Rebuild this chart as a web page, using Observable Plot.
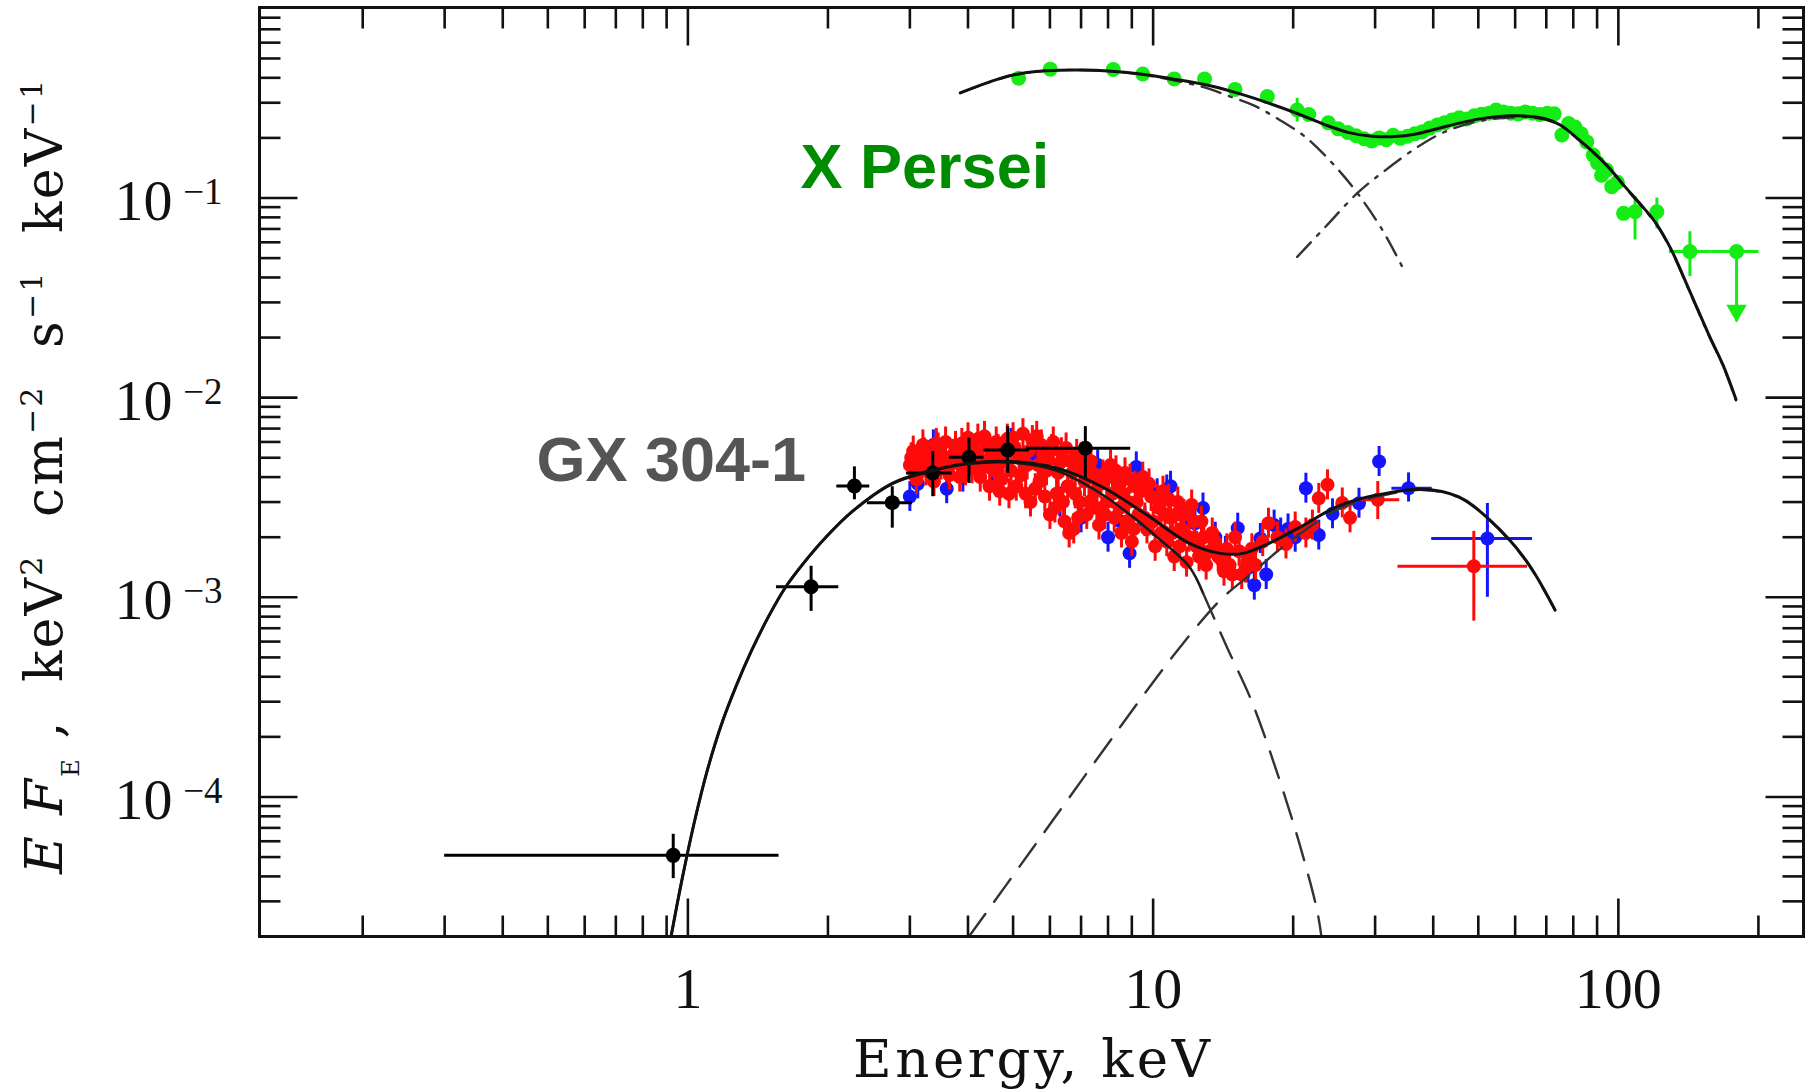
<!DOCTYPE html>
<html>
<head>
<meta charset="utf-8">
<script src="https://cdn.jsdelivr.net/npm/d3@7"></script>
<script src="https://cdn.jsdelivr.net/npm/@observablehq/plot@0.6"></script>
<style>
  html, body { margin: 0; padding: 0; background: #fff; }
  #chart { width: 1805px; height: 1089px; }
</style>
</head>
<body>
<div id="chart"></div>
<script>
// ---------------- axes ----------------
const xDomain = [0.12, 250];      // Energy, keV
const yDomain = [2e-5, 0.9];      // E F_E, keV^2 cm^-2 s^-1 keV^-1
const xMajorTicks = [1, 10, 100];
const xTickLabels = ["1", "10", "100"];
const xMinorTicks = [0.2, 0.3, 0.4, 0.5, 0.6, 0.7, 0.8, 0.9,
                     2, 3, 4, 5, 6, 7, 8, 9,
                     20, 30, 40, 50, 60, 70, 80, 90, 200];
const yMajorTicks = [1e-4, 1e-3, 1e-2, 1e-1];
const yTickExponents = ["\u22124", "\u22123", "\u22122", "\u22121"];
const yMinorTicks = [3e-5, 4e-5, 5e-5, 6e-5, 7e-5, 8e-5, 9e-5,
                     2e-4, 3e-4, 4e-4, 5e-4, 6e-4, 7e-4, 8e-4, 9e-4,
                     2e-3, 3e-3, 4e-3, 5e-3, 6e-3, 7e-3, 8e-3, 9e-3,
                     2e-2, 3e-2, 4e-2, 5e-2, 6e-2, 7e-2, 8e-2, 9e-2,
                     0.2, 0.3, 0.4, 0.5, 0.6, 0.7, 0.8];
const xLabel = "Energy, keV";

// ---------------- X Persei ----------------
// spectral points [E, EF_E]
const xperPoints = [
  [5.14,0.398],[6.01,0.442],[8.21,0.44],[9.5,0.418],[11.1,0.395],[12.9,0.395],
  [15.0,0.35],[17.6,0.322],[21.6,0.262],[23.8,0.238],[25.0,0.222],[26.2,0.213],
  [27.3,0.205],[28.4,0.198],[29.5,0.193],[30.6,0.2],[31.7,0.196],[32.8,0.206],
  [34.0,0.199],[35.2,0.204],[36.5,0.21],[37.9,0.215],[39.3,0.224],[40.8,0.232],
  [42.3,0.238],[43.9,0.246],[45.5,0.252],[47.2,0.249],[49.0,0.258],[50.8,0.263],
  [52.7,0.266],[54.6,0.276],[56.6,0.27],[58.7,0.266],[60.9,0.264],[63.1,0.27],
  [65.4,0.266],[67.8,0.262],[70.3,0.266],[72.8,0.264],[75.6,0.207],[78.2,0.236],
  [80.7,0.227],[83.2,0.21],[85.5,0.191],[88.3,0.164],[90.2,0.15],[92.0,0.13],
  [94.3,0.138],[96.8,0.114],[99.5,0.12],[102.6,0.0838]
];
const xperErrDex = 0.03;
// points with their own error bars [E, EF_E, Elo, Ehi, lo, hi]
const xperWide = [
  [20.4, 0.276, 20.4, 20.4, 0.24, 0.316],
  [108.6, 0.0854, 108.6, 108.6, 0.0616, 0.1015],
  [121, 0.0854, 121, 121, 0.07, 0.1],
  [142.5, 0.0539, 128.7, 158.4, 0.0404, 0.0678]
];
// upper limit [E, EF_E, Elo, Ehi, arrow tip]
const xperLimit = [[179.5, 0.0539, 158.4, 200.5, 0.024]];
// model: total and the two components
const xperModel = [
  [3.85,0.336],[4.5,0.385],[5.0,0.413],[5.6,0.43],[6.3,0.437],[7.0,0.438],[8.0,0.433],
  [9.4,0.418],[11,0.395],[12.9,0.37],[15,0.338],[17.7,0.299],[20.4,0.265],[23.5,0.232],
  [26.5,0.212],[29.5,0.204],[33,0.203],[37,0.21],[41.5,0.225],[46.5,0.24],[52,0.252],
  [58.6,0.258],[64,0.257],[69.3,0.25],[75,0.232],[82.5,0.195],[89,0.167],[95.2,0.143],
  [103,0.115],[113,0.09],[121,0.0737],[130,0.055],[142.5,0.034],[156,0.021],
  [168,0.0145],[179,0.0098]
];
const xperSoft = [
  [3.85,0.336],[5,0.413],[6.3,0.437],[8,0.432],[9.4,0.416],[11,0.39],[12.9,0.358],
  [14.5,0.325],[16.4,0.292],[18.5,0.25],[21.2,0.203],[24.3,0.149],[27.3,0.108],
  [31,0.07],[34.6,0.0436]
];
const xperHard = [
  [20.4,0.0507],[23.5,0.072],[27.5,0.106],[31.6,0.138],[36.6,0.177],[41.5,0.21],
  [46.5,0.232],[52,0.246],[58.6,0.253],[64,0.254],[69.3,0.248],[75,0.231],[82.5,0.194],
  [89,0.166],[95.2,0.142],[103,0.114],[113,0.089],[121,0.073],[130,0.0545],
  [142.5,0.0337],[156,0.0208],[168,0.0144],[179,0.0097]
];

// ---------------- GX 304-1 ----------------
// first instrument [E, EF_E, Elo, Ehi, lo, hi]
const gxBlack = [
  [0.93, 5.1e-5, 0.30, 1.57, 3.9e-5, 6.5e-5],
  [1.84, 1.13e-3, 1.55, 2.11, 8.5e-4, 1.43e-3],
  [2.28, 3.61e-3, 2.09, 2.46, 3.08e-3, 4.5e-3],
  [2.75, 2.98e-3, 2.43, 3.04, 2.22e-3, 3.58e-3],
  [3.36, 4.2e-3, 2.95, 3.7, 3.19e-3, 5.37e-3],
  [4.02, 5.03e-3, 3.65, 4.33, 3.72e-3, 6.27e-3],
  [4.87, 5.47e-3, 4.33, 5.42, 4.18e-3, 7.16e-3],
  [7.15, 5.58e-3, 5.34, 8.95, 3.89e-3, 7.16e-3]
];
// second instrument [E, EF_E]
const gxRed = [
  [3.0,4.6e-3],[3.02,5.0e-3],[3.05,5.4e-3],[3.1,3.9e-3],[3.12,4.4e-3],[3.15,4.9e-3],
  [3.2,5.8e-3],[3.22,5.3e-3],[3.25,4.3e-3],[3.3,5.1e-3],[3.35,4.7e-3],[3.38,3.8e-3],
  [3.42,5.9e-3],[3.45,5.6e-3],[3.5,4.6e-3],[3.55,5.0e-3],[3.58,6.0e-3],[3.62,4.4e-3],
  [3.65,4.1e-3],[3.72,5.2e-3],[3.76,5.7e-3],[3.8,4.7e-3],[3.84,4.0e-3],[3.88,5.9e-3],
  [3.92,5.3e-3],[3.95,4.3e-3],[4.0,6.3e-3],[4.05,5.5e-3],[4.08,4.4e-3],[4.12,4.9e-3],
  [4.16,5.3e-3],[4.2,6.2e-3],[4.25,4.0e-3],[4.3,4.5e-3],[4.34,6.4e-3],[4.38,5.7e-3],
  [4.42,4.9e-3],[4.45,3.6e-3],[4.52,5.2e-3],[4.56,4.3e-3],[4.6,6.0e-3],[4.64,5.5e-3],
  [4.68,3.4e-3],[4.72,3.9e-3],[4.75,4.8e-3],[4.82,5.6e-3],[4.86,6.2e-3],[4.9,3.3e-3],
  [4.95,4.3e-3],[5.0,6.3e-3],[5.04,5.6e-3],[5.08,3.6e-3],[5.15,5.0e-3],[5.2,4.1e-3],
  [5.25,6.6e-3],[5.32,3.3e-3],[5.36,4.6e-3],[5.4,5.4e-3],[5.45,3.0e-3],[5.5,6.1e-3],
  [5.58,3.5e-3],[5.62,6.4e-3],[5.66,4.6e-3],[5.7,3.8e-3],[5.75,5.8e-3],[5.8,5.2e-3],
  [5.85,3.2e-3],[5.9,4.3e-3],[5.95,4.9e-3],[6.0,2.6e-3],[6.05,5.5e-3],[6.1,6.0e-3],
  [6.15,2.8e-3],[6.2,3.3e-3],[6.25,4.2e-3],[6.3,4.7e-3],[6.35,5.3e-3],[6.4,3.0e-3],
  [6.45,2.4e-3],[6.5,5.6e-3],[6.55,3.6e-3],[6.6,2.1e-3],[6.65,4.8e-3],[6.7,4.2e-3],
  [6.75,2.2e-3],[6.8,3.3e-3],[6.85,5.2e-3],[6.9,2.5e-3],[6.95,3.0e-3],[7.0,5.0e-3],
  [7.05,4.4e-3],[7.12,3.8e-3],[7.2,2.6e-3],[7.28,3.0e-3],[7.35,4.8e-3],[7.42,4.2e-3],
  [7.5,3.4e-3],[7.57,2.8e-3],[7.65,2.3e-3],[7.72,3.7e-3],[7.8,4.1e-3],[7.87,2.6e-3],
  [7.95,3.0e-3],[8.02,4.0e-3],[8.1,4.6e-3],[8.18,3.3e-3],[8.25,2.5e-3],[8.32,4.3e-3],
  [8.4,3.7e-3],[8.48,2.8e-3],[8.55,2.1e-3],[8.62,3.3e-3],[8.7,4.2e-3],[8.78,2.4e-3],
  [8.85,3.0e-3],[8.92,3.9e-3],[9.0,1.9e-3],[9.08,2.2e-3],[9.15,3.6e-3],[9.22,3.0e-3],
  [9.3,2.6e-3],[9.4,3.4e-3],[9.5,4.0e-3],[9.6,2.5e-3],[9.7,2.2e-3],[9.8,3.7e-3],
  [9.9,3.2e-3],[10.0,2.4e-3],[10.1,1.8e-3],[10.2,3.1e-3],[10.3,2.8e-3],[10.4,2.1e-3],
  [10.5,3.4e-3],[10.6,2.6e-3],[10.7,1.9e-3],[10.8,3.1e-3],[10.9,2.5e-3],[11.0,2.1e-3],
  [11.1,1.6e-3],[11.2,2.6e-3],[11.3,3.0e-3],[11.4,1.8e-3],[11.5,2.2e-3],[11.65,2.6e-3],
  [11.8,1.5e-3],[11.95,2.0e-3],[12.1,2.9e-3],[12.25,2.4e-3],[12.4,1.8e-3],[12.55,1.6e-3],
  [12.7,2.4e-3],[12.85,2.0e-3],[13.0,1.45e-3],[13.2,1.7e-3],[13.4,2.1e-3],[13.6,1.9e-3],
  [13.8,1.6e-3],[14.0,1.55e-3],[14.2,1.35e-3],[14.4,1.75e-3],[14.6,1.45e-3],[14.8,1.3e-3],
  [15.0,2.0e-3],[15.3,1.7e-3],[15.5,1.3e-3],[15.8,1.4e-3],[16.0,1.55e-3],[16.3,1.75e-3],
  [16.6,1.45e-3],[17.2,1.9e-3],[17.7,2.35e-3],[18.5,2.0e-3],[19.3,1.85e-3],[20.2,2.25e-3],
  [21.3,2.1e-3],[22.0,2.3e-3],[22.7,3.13e-3],[23.7,3.66e-3],[25.5,2.97e-3],[26.5,2.5e-3]
];
const gxRedWide = [
  [30.4, 3.08e-3, 28.0, 33.9, 2.45e-3, 3.8e-3],
  [48.9, 1.43e-3, 33.6, 63.8, 7.6e-4, 2.14e-3]
];
// third instrument [E, EF_E]
const gxBlue = [
  [3.0,3.2e-3],[3.12,3.7e-3],[3.37,5.8e-3],[3.6,3.5e-3],[3.9,4.0e-3],[4.27,4.4e-3],
  [4.6,3.9e-3],[4.95,5.9e-3],[5.5,5.2e-3],[6.3,3.0e-3],[7.0,2.5e-3],[7.6,4.6e-3],
  [8.0,2.0e-3],[8.5,2.4e-3],[8.9,1.66e-3],[9.2,4.5e-3],[9.6,2.4e-3],[10.2,3.3e-3],
  [10.7,3.45e-3],[10.9,3.6e-3],[11.5,2.6e-3],[11.8,2.4e-3],[12.3,2.35e-3],[12.8,2.8e-3],
  [13.6,2.0e-3],[14.3,1.7e-3],[15.2,2.22e-3],[16.0,1.4e-3],[16.5,1.15e-3],[17.0,1.97e-3],
  [17.5,1.3e-3],[18.2,2.3e-3],[18.8,2.1e-3],[19.5,2.2e-3],[20.2,2.0e-3],[21.3,3.52e-3],
  [22.7,2.05e-3],[24.3,2.62e-3],[27.7,2.96e-3],[30.6,4.79e-3]
];
const gxBlueWide = [
  [35.4, 3.52e-3, 32.6, 39.8, 3.0e-3, 4.2e-3],
  [52.3, 1.97e-3, 39.7, 65.4, 1.0e-3, 2.95e-3]
];
const gxErrDex = 0.075;
// model: total and the two components
const gxModel = [
  [0.92,2.0e-5],[0.97,3.8e-5],[1.03,7.3e-5],[1.1,1.35e-4],[1.18,2.3e-4],[1.27,3.6e-4],
  [1.37,5.4e-4],[1.49,8.0e-4],[1.62,1.12e-3],[1.78,1.5e-3],[1.98,2.0e-3],[2.26,2.7e-3],
  [2.75,3.72e-3],[3.28,4.27e-3],[4.01,4.7e-3],[4.98,4.79e-3],[6.22,4.43e-3],[7.76,3.58e-3],
  [9.6,2.63e-3],[11.94,1.87e-3],[13.95,1.66e-3],[15.6,1.66e-3],[17.8,1.87e-3],[20.8,2.26e-3],
  [24.9,2.85e-3],[30.4,3.26e-3],[37.9,3.48e-3],[45.3,3.19e-3],[52.9,2.44e-3],[63.2,1.54e-3],
  [73.1,8.65e-4]
];
const gxSoft = [
  [0.92,2.0e-5],[0.97,3.8e-5],[1.03,7.3e-5],[1.1,1.35e-4],[1.18,2.3e-4],[1.27,3.6e-4],
  [1.37,5.4e-4],[1.49,8.0e-4],[1.62,1.12e-3],[1.78,1.5e-3],[1.98,2.0e-3],[2.26,2.7e-3],
  [2.75,3.7e-3],[3.28,4.24e-3],[4.01,4.65e-3],[4.98,4.72e-3],[6.22,4.3e-3],[7.7,3.32e-3],
  [9.0,2.55e-3],[10.2,2.0e-3],[11.94,1.43e-3],[12.8,1.05e-3],[14.5,5.45e-4],[16.3,3.0e-4],
  [18.6,1.26e-4],[20.6,5.9e-5],[22.5,2.72e-5],[23.0,2.0e-5]
];
const gxHard = [
  [4.02,2.0e-5],[5.5,5.5e-5],[7.5,1.5e-4],[9.5,3.2e-4],[11.3,5.45e-4],[13.95,9.7e-4],
  [16.3,1.32e-3],[18.5,1.7e-3],[20.8,2.1e-3],[24.9,2.75e-3],[30.4,3.2e-3],[37.9,3.45e-3],
  [45.3,3.17e-3],[52.9,2.43e-3],[63.2,1.53e-3],[73.1,8.6e-4]
];

// source names
const sourceLabels = [
  {E: 1.746, F: 0.1128, text: "X Persei", color: "#008c00"},
  {E: 0.4726, F: 3.84e-3, text: "GX 304-1", color: "#555555"}
];

// ---------------- colours ----------------
const cGreen = "#14ec14", cRed = "#ff0a0a", cBlue = "#1414ff", cInk = "#111111";

// ---------------- helpers ----------------
const E = d => d[0], F = d => d[1];
const lo = dex => d => d[1] / Math.pow(10, dex);
const hi = dex => d => d[1] * Math.pow(10, dex);

function dataLayer(points, wide, color, dex, r) {
  return [
    Plot.ruleX(points, {x: E, y1: lo(dex), y2: hi(dex), stroke: color, strokeWidth: 3}),
    Plot.ruleX(wide, {x: E, y1: d => d[4], y2: d => d[5], stroke: color, strokeWidth: 3}),
    Plot.ruleY(wide.filter(d => d[2] < d[3]), {y: F, x1: d => d[2], x2: d => d[3], stroke: color, strokeWidth: 3}),
    Plot.dot(points, {x: E, y: F, r, fill: color}),
    Plot.dot(wide, {x: E, y: F, r, fill: color})
  ];
}

// inward tick marks drawn as vectors of fixed pixel length
const tickShape = {draw(ctx, l) { ctx.moveTo(0, 0); ctx.lineTo(0, -l); }};
function tickMarks(values, side, len) {
  const opts = {length: len, shape: tickShape, anchor: "start", stroke: cInk, strokeWidth: 2.6, strokeLinecap: "butt"};
  if (side === "bottom") return Plot.vector(values, {x: d => d, frameAnchor: "bottom", rotate: 0, ...opts});
  if (side === "top") return Plot.vector(values, {x: d => d, frameAnchor: "top", rotate: 180, ...opts});
  if (side === "left") return Plot.vector(values, {y: d => d, frameAnchor: "left", rotate: 90, ...opts});
  return Plot.vector(values, {y: d => d, frameAnchor: "right", rotate: 270, ...opts});
}

const line = (data, extra) => Plot.line(data, {x: E, y: F, curve: "catmull-rom", stroke: cInk, strokeWidth: 3, clip: true, ...extra});

const plot = Plot.plot({
  width: 1805,
  height: 1089,
  marginLeft: 259,
  marginRight: 2,
  marginTop: 7,
  marginBottom: 153,
  style: {background: "#fff", overflow: "visible"},
  x: {type: "log", domain: xDomain, axis: null},
  y: {type: "log", domain: yDomain, axis: null},
  marks: [
    // GX 304-1 spectra
    ...dataLayer(gxBlue, gxBlueWide, cBlue, gxErrDex, 7),
    ...dataLayer(gxRed, gxRedWide, cRed, gxErrDex, 7),
    Plot.ruleX(gxBlack, {x: E, y1: d => d[4], y2: d => d[5], stroke: "#000", strokeWidth: 3}),
    Plot.ruleY(gxBlack, {y: F, x1: d => d[2], x2: d => d[3], stroke: "#000", strokeWidth: 3}),
    Plot.dot(gxBlack, {x: E, y: F, r: 7.5, fill: "#000"}),
    // X Persei spectrum
    ...dataLayer(xperPoints, xperWide, cGreen, xperErrDex, 7.5),
    Plot.ruleY(xperLimit, {y: F, x1: d => d[2], x2: d => d[3], stroke: cGreen, strokeWidth: 3}),
    Plot.ruleX(xperLimit, {x: E, y1: F, y2: d => d[4], stroke: cGreen, strokeWidth: 3}),
    Plot.dot(xperLimit, {x: E, y: F, r: 7.5, fill: cGreen}),
    Plot.dot(xperLimit, {x: E, y: d => d[4], symbol: "triangle", rotate: 180, r: 7.6, dy: -11, fill: cGreen}),
    // models
    line(gxSoft.filter(d => d[0] <= 12.8), {stroke: "#1a1a1a", strokeWidth: 2.6}),
    line(gxSoft.filter(d => d[0] >= 12.8), {stroke: "#333", strokeWidth: 2.4, strokeDasharray: "28,15"}),
    line(gxHard, {stroke: "#333", strokeWidth: 2.4, strokeDasharray: "28,15"}),
    line(gxModel),
    line(xperSoft, {stroke: "#333", strokeWidth: 2.4, strokeDasharray: "20,9,3,9"}),
    line(xperHard, {stroke: "#333", strokeWidth: 2.4, strokeDasharray: "20,9,3,9"}),
    line(xperModel),
    // source names
    Plot.text(sourceLabels, {x: "E", y: "F", text: "text", fill: "color", textAnchor: "start", lineAnchor: "bottom",
      fontFamily: "Liberation Sans, Arial, sans-serif", fontWeight: "bold", fontSize: 63}),
    // ticks on all four sides
    tickMarks(xMajorTicks, "bottom", 38), tickMarks(xMinorTicks, "bottom", 21),
    tickMarks(xMajorTicks, "top", 38), tickMarks(xMinorTicks, "top", 21),
    tickMarks(yMajorTicks, "left", 38), tickMarks(yMinorTicks, "left", 21),
    tickMarks(yMajorTicks, "right", 38), tickMarks(yMinorTicks, "right", 21),
    Plot.frame({stroke: cInk, strokeWidth: 3}),
    // tick labels
    Plot.text(xMajorTicks, {x: d => d, frameAnchor: "bottom", text: (d, i) => xTickLabels[i], dy: 71,
      lineAnchor: "bottom", fontFamily: "Liberation Serif, serif", fontSize: 58, fill: cInk}),
    Plot.text(yMajorTicks, {y: d => d, frameAnchor: "left", text: () => "10", textAnchor: "end", dx: -87, dy: 22,
      lineAnchor: "bottom", fontFamily: "Liberation Serif, serif", fontSize: 58, fill: cInk}),
    Plot.text(yMajorTicks, {y: d => d, frameAnchor: "left", text: (d, i) => yTickExponents[i], textAnchor: "end", dx: -37, dy: 6,
      lineAnchor: "bottom", fontFamily: "Liberation Serif, serif", fontSize: 37, fill: cInk}),
    // x-axis title
    Plot.text([xLabel], {frameAnchor: "bottom", text: d => d, dy: 140, lineAnchor: "bottom",
      fontFamily: "DejaVu Serif, serif", fontSize: 53, fill: cInk})
  ]
});

document.getElementById("chart").appendChild(plot);

// letter spacing of the x-axis title
const svg = d3.select(plot);
svg.selectAll("text").filter(function () { return this.textContent === xLabel; })
  .attr("textLength", 357).attr("lengthAdjust", "spacing");

// y-axis title with italic symbols, subscript and superscripts
const yLabelParts = [
  {t: "E", italic: true}, {t: " "}, {t: "F", italic: true}, {t: "E", shift: 17, size: 24},
  {t: " ,  keV"}, {t: "2", shift: -20, size: 30}, {t: "  cm"}, {t: "\u22122", shift: -20, size: 30},
  {t: "  s"}, {t: "\u22121", shift: -20, size: 30}, {t: "  keV"}, {t: "\u22121", shift: -20, size: 30}
];
const yTitle = svg.append("text")
  .attr("transform", "translate(62,477) rotate(-90)")
  .attr("text-anchor", "middle")
  .attr("font-family", "DejaVu Serif, serif")
  .attr("font-size", 52)
  .attr("fill", cInk)
  .attr("textLength", 794)
  .attr("lengthAdjust", "spacing")
  .style("white-space", "pre");
let prevShift = 0;
for (const p of yLabelParts) {
  const s = p.shift || 0;
  const ts = yTitle.append("tspan").text(p.t).attr("dy", s - prevShift);
  if (p.italic) ts.attr("font-style", "italic");
  if (p.size) ts.attr("font-size", p.size);
  prevShift = s;
}
</script>
</body>
</html>
